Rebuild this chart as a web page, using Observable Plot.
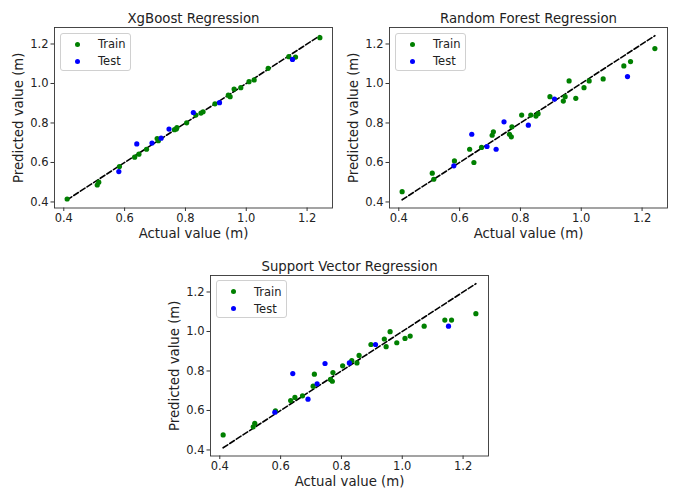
<!DOCTYPE html>
<html>
<head>
<meta charset="utf-8">
<script src="https://cdn.jsdelivr.net/npm/d3@7"></script>
<script src="https://cdn.jsdelivr.net/npm/@observablehq/plot@0.6"></script>
<style>
  html, body { margin: 0; padding: 0; background: #fff; }
  #wrap { position: relative; width: 673px; height: 489px; background: #fff; font-family: "DejaVu Sans", sans-serif; color: #222; }
  .panel { position: absolute; }
  .panel svg { overflow: visible; }
  [aria-label="x-axis label"], [aria-label="y-axis label"] { font-size: 13.3px; }
  .legend { position: absolute; box-sizing: border-box; width: 71px; height: 38px; border: 1px solid #d0d0d0; border-radius: 3px; background: rgba(255,255,255,0.85); font-size: 11.5px; }
  .legend .row { position: absolute; left: 0; height: 14px; line-height: 14px; }
  .legend .sw { position: absolute; left: 14px; top: 4.5px; width: 5px; height: 5px; border-radius: 50%; }
  .legend .lb { position: absolute; left: 37px; top: 0; white-space: nowrap; }
</style>
</head>
<body>
<div id="wrap"></div>
<script>
// ---- data ----
const titles = ["XgBoost Regression", "Random Forest Regression", "Support Vector Regression"];
const seriesNames = ["Train", "Test"];
const seriesColors = ["#008000", "#0000ff"];
const tickValues = [0.4, 0.6, 0.8, 1.0, 1.2];
const xLabel = "Actual value (m)";
const yLabel = "Predicted value (m)";

const trainActual = [0.411, 0.510, 0.515, 0.583, 0.633, 0.647, 0.672, 0.707, 0.711, 0.764, 0.770, 0.772, 0.804, 0.834, 0.851, 0.858, 0.897, 0.941, 0.947, 0.960, 0.982, 1.009, 1.026, 1.072, 1.140, 1.162, 1.242];
const xgbTrain = [0.415, 0.486, 0.500, 0.579, 0.627, 0.642, 0.667, 0.721, 0.710, 0.766, 0.770, 0.777, 0.801, 0.840, 0.850, 0.857, 0.897, 0.941, 0.933, 0.972, 0.979, 1.009, 1.018, 1.077, 1.136, 1.134, 1.232];
const rfTrain  = [0.452, 0.546, 0.515, 0.608, 0.667, 0.600, 0.676, 0.738, 0.755, 0.743, 0.730, 0.781, 0.840, 0.840, 0.835, 0.847, 0.933, 0.911, 0.933, 1.013, 0.925, 0.979, 1.013, 1.023, 1.089, 1.111, 1.177];
const svrTrain = [0.476, 0.517, 0.535, 0.598, 0.650, 0.666, 0.674, 0.723, 0.784, 0.757, 0.748, 0.792, 0.826, 0.853, 0.841, 0.879, 0.934, 0.962, 0.923, 0.999, 0.943, 0.965, 0.977, 1.027, 1.058, 1.058, 1.090];

const testActual = [0.581, 0.640, 0.690, 0.720, 0.746, 0.826, 0.912, 1.152];
const xgbTest = [0.554, 0.694, 0.698, 0.723, 0.769, 0.853, 0.903, 1.122];
const rfTest  = [0.583, 0.743, 0.681, 0.667, 0.806, 0.789, 0.921, 1.035];
const svrTest = [0.591, 0.787, 0.657, 0.735, 0.838, 0.841, 0.934, 1.027];

const trainPreds = [xgbTrain, rfTrain, svrTrain];
const testPreds = [xgbTest, rfTest, svrTest];

// ---- layout ----
const panelPos = [[0, 0], [335, 0], [156, 247.5]];
const M = {left: 54, right: 4, top: 27, bottom: 34};
const frameW = 278, frameH = 180.5;

const allActual = trainActual.concat(testActual);
const lineExtent = d3.extent(allActual);
const lineData = lineExtent.map(v => ({x: v, y: v}));

function paddedDomain(values) {
  const [a, b] = d3.extent(values);
  const pad = (b - a) * 0.05;
  return [a - pad, b + pad];
}

const wrap = document.getElementById("wrap");

titles.forEach((title, i) => {
  const train = trainActual.map((a, j) => ({x: a, y: trainPreds[i][j]}));
  const test = testActual.map((a, j) => ({x: a, y: testPreds[i][j]}));
  const xDomain = paddedDomain(allActual.concat(lineExtent));
  const yDomain = paddedDomain(trainPreds[i].concat(testPreds[i], lineExtent));

  const chart = Plot.plot({
    width: M.left + frameW + M.right,
    height: M.top + frameH + M.bottom,
    marginLeft: M.left, marginRight: M.right, marginTop: M.top, marginBottom: M.bottom,
    style: {fontFamily: "DejaVu Sans, sans-serif", fontSize: "11.5px", color: "#222", background: "transparent", overflow: "visible"},
    x: {domain: xDomain},
    y: {domain: yDomain},
    marks: [
      Plot.axisX({ticks: tickValues, tickFormat: d3.format(".1f"), tickSize: 3.5, tickPadding: 2.5, label: xLabel, labelAnchor: "center", labelArrow: "none", labelOffset: 30, stroke: "#333"}),
      Plot.axisY({ticks: tickValues, tickFormat: d3.format(".1f"), tickSize: 3.5, tickPadding: 2.5, label: yLabel, labelAnchor: "center", labelArrow: "none", labelOffset: 41, stroke: "#333"}),
      Plot.line(lineData, {x: "x", y: "y", stroke: "#000", strokeWidth: 1.6, strokeDasharray: "5.5,2.4"}),
      Plot.dot(train, {x: "x", y: "y", r: 2.6, fill: seriesColors[0], stroke: "none"}),
      Plot.dot(test, {x: "x", y: "y", r: 2.6, fill: seriesColors[1], stroke: "none"}),
      Plot.frame({stroke: "#333", strokeWidth: 0.9}),
      Plot.text([title], {text: d => d, frameAnchor: "top", lineAnchor: "bottom", dy: -5, fontSize: 13.3, fill: "#222"})
    ]
  });

  const div = document.createElement("div");
  div.className = "panel";
  div.style.left = panelPos[i][0] + "px";
  div.style.top = panelPos[i][1] + "px";
  div.appendChild(chart);

  const leg = document.createElement("div");
  leg.className = "legend";
  leg.style.left = (M.left + 6) + "px";
  leg.style.top = (M.top + 5.5) + "px";
  seriesNames.forEach((name, k) => {
    const row = document.createElement("div");
    row.className = "row";
    row.style.top = (3.5 + k * 17) + "px";
    row.style.width = "100%";
    const sw = document.createElement("div");
    sw.className = "sw";
    sw.style.background = seriesColors[k];
    const lb = document.createElement("div");
    lb.className = "lb";
    lb.textContent = name;
    row.appendChild(sw);
    row.appendChild(lb);
    leg.appendChild(row);
  });
  div.appendChild(leg);
  wrap.appendChild(div);
});
</script>
</body>
</html>
